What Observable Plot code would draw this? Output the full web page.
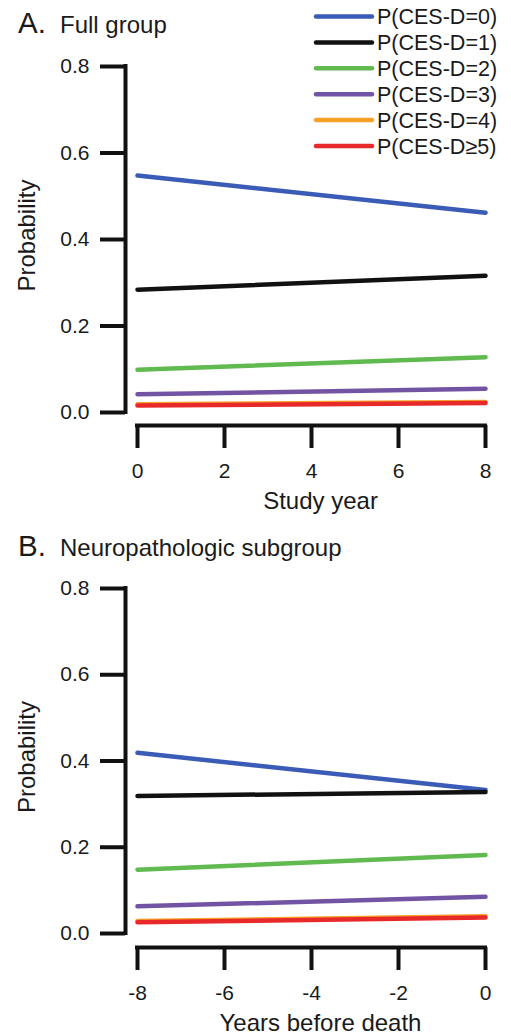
<!DOCTYPE html>
<html>
<head>
<meta charset="utf-8">
<script src="https://cdn.jsdelivr.net/npm/d3@7"></script>
<script src="https://cdn.jsdelivr.net/npm/@observablehq/plot@0.6"></script>
<style>
  html, body { margin: 0; padding: 0; background: #fff; }
  #wrap { position: relative; width: 511px; height: 1035px; overflow: hidden; font-family: "Liberation Sans", Arial, Helvetica, sans-serif; color: #1a1a1a; }
  #wrap > div.panel { position: absolute; left: 0; }
  #overlay { position: absolute; left: 0; top: 0; pointer-events: none; }
</style>
</head>
<body>
<div id="wrap">
  <div class="panel" id="panelA" style="top:0px"></div>
  <div class="panel" id="panelB" style="top:530px"></div>
  <svg id="overlay" width="511" height="1035"></svg>
</div>
<script>
// ---- data ----
const categories = ["P(CES-D=0)", "P(CES-D=1)", "P(CES-D=2)", "P(CES-D=3)", "P(CES-D=4)", "P(CES-D\u22655)"];
const colors = ["#3a5bb6", "#111111", "#60ba50", "#7354a4", "#f6a12a", "#e8292a"];

// Panel A: Full group, study year 0 -> 8
const yearsA = [0, 8];
const probA_start = [0.548, 0.284, 0.099, 0.042, 0.019, 0.016];
const probA_end   = [0.462, 0.316, 0.128, 0.055, 0.024, 0.022];

// Panel B: Neuropathologic subgroup, years before death -8 -> 0
const yearsB = [-8, 0];
const probB_start = [0.419, 0.319, 0.148, 0.063, 0.029, 0.026];
const probB_end   = [0.333, 0.328, 0.182, 0.085, 0.040, 0.037];

const xTicksA = [0, 2, 4, 6, 8];
const xTicksB = [-8, -6, -4, -2, 0];
const yTicks = [0, 0.2, 0.4, 0.6, 0.8];
const yLabel = "Probability";
const xLabelA = "Study year";
const xLabelB = "Years before death";
const titleA = ["A.", "Full group"];
const titleB = ["B.", "Neuropathologic subgroup"];

function rows(years, starts, ends) {
  const out = [];
  categories.forEach((c, i) => {
    out.push({cat: c, x: years[0], y: starts[i]});
    out.push({cat: c, x: years[1], y: ends[i]});
  });
  return out;
}

function panel({data, years, xTicks, xLabel, height, marginTop, marginBottom, insetBottom}) {
  const insetLeft = 12;
  const yDomain = [0, 0.8];
  const axisColor = "#111";
  return Plot.plot({
    width: 511,
    height,
    marginLeft: 125,
    marginRight: 26,
    marginTop,
    marginBottom,
    style: {fontFamily: '"Liberation Sans", Arial, Helvetica, sans-serif', fontSize: "21px", color: "#1a1a1a", background: "transparent", overflow: "visible"},
    x: {domain: years, insetLeft},
    y: {domain: yDomain, insetBottom},
    color: {domain: categories, range: colors},
    marks: [
      // axis lines (R-style, detached)
      Plot.ruleX([years[0]], {y1: yDomain[0], y2: yDomain[1], dx: -insetLeft, stroke: axisColor, strokeWidth: 4, strokeLinecap: "square"}),
      Plot.ruleY([yDomain[0]], {x1: years[0], x2: years[1], dy: insetBottom, stroke: axisColor, strokeWidth: 4, strokeLinecap: "square"}),
      Plot.axisY({ticks: yTicks, tickSize: 25, tickPadding: 11, strokeWidth: 4, stroke: axisColor, tickFormat: d3.format(".1f"), label: null, fontSize: 21}),
      Plot.axisX({ticks: xTicks, tickSize: 23, tickPadding: 15, strokeWidth: 4, stroke: axisColor, tickFormat: d => d3.format("d")(d).replace("\u2212", "-"), label: null, fontSize: 21}),
      Plot.text([yLabel], {text: d => d, frameAnchor: "left", y: () => 0.4, dx: -98, dy: -4, rotate: -90, textAnchor: "middle", lineAnchor: "middle", fontSize: 24, fill: "#1a1a1a"}),
      Plot.text([xLabel], {text: d => d, frameAnchor: "bottom", x: () => (years[0] + years[1]) / 2, dx: 9, dy: 76, textAnchor: "middle", lineAnchor: "middle", fontSize: 24, fill: "#1a1a1a"}),
      Plot.line(data, {x: "x", y: "y", z: "cat", stroke: "cat", strokeWidth: 4.5, strokeLinecap: "round"})
    ]
  });
}

document.getElementById("panelA").append(panel({
  data: rows(yearsA, probA_start, probA_end),
  years: yearsA, xTicks: xTicksA, xLabel: xLabelA,
  height: 530, marginTop: 66, marginBottom: 105, insetBottom: 13
}));
document.getElementById("panelB").append(panel({
  data: rows(yearsB, probB_start, probB_end),
  years: yearsB, xTicks: xTicksB, xLabel: xLabelB,
  height: 505, marginTop: 58, marginBottom: 88, insetBottom: 14
}));

// ---- titles and legend overlay ----
const ov = d3.select("#overlay");
const ff = '"Liberation Sans", Arial, Helvetica, sans-serif';
function title(parts, baseline) {
  ov.append("text").attr("x", 18).attr("y", baseline).attr("font-family", ff).attr("font-size", 29.5).attr("fill", "#1a1a1a").text(parts[0]);
  ov.append("text").attr("x", 60).attr("y", baseline).attr("font-family", ff).attr("font-size", 24).attr("fill", "#1a1a1a").text(parts[1]);
}
title(titleA, 33);
title(titleB, 556);

const leg = ov.append("g");
categories.forEach((c, i) => {
  const cy = 16.5 + i * 25.9;
  leg.append("line").attr("x1", 316).attr("x2", 372).attr("y1", cy).attr("y2", cy)
    .attr("stroke", colors[i]).attr("stroke-width", 4.5).attr("stroke-linecap", "round");
  leg.append("text").attr("x", 377).attr("y", cy).attr("dy", "0.36em")
    .attr("font-family", ff).attr("font-size", 21.5).attr("fill", "#1a1a1a").text(c);
});
</script>
</body>
</html>
